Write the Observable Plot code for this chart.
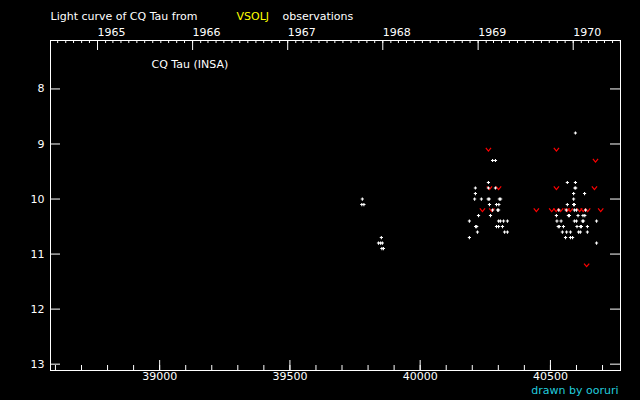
<!DOCTYPE html>
<html><head><meta charset="utf-8">
<script src="https://cdn.jsdelivr.net/npm/d3@7"></script>
<script src="https://cdn.jsdelivr.net/npm/@observablehq/plot@0.6"></script>
<style>html,body{margin:0;padding:0;background:#000;overflow:hidden}</style>
</head><body><div id="chart"></div>
<script>
// Visual observations (JD - 2400000, magnitude)
const visJD = [
  39778,39776,39784,39851,39840,39848,39855,39853,39859,
  40278,40289,40262,40212,40262,40289,40212,
  40209,40235,40261,40265,40304,40309,
  40266,40293,40302,40278,40297,40301,
  40224,40270,40189,40301,40308,40320,40335,
  40213,40217,40293,40301,40316,40220,40324,40335,40189,
  40596,40565,40596,40594,40597,40589,40631,40589,
  40565,40589,40592,40532,40561,40592,40600,40635,
  40523,40569,40573,40606,40625,40632,
  40525,40541,40592,40600,40623,40627,40677,
  40530,40534,40550,40602,40615,40619,40642,
  40546,40562,40577,40608,40615,40642,
  40558,40577,40585,40677
];
const visMag = [
  10.0,10.1,10.1,10.7,10.8,10.8,10.8,10.9,10.9,
  9.3,9.3,9.7,9.8,9.8,9.8,9.9,
  10.0,10.0,10.0,10.0,10.0,10.0,
  10.1,10.1,10.1,10.2,10.2,10.2,
  10.3,10.3,10.4,10.4,10.4,10.4,10.4,
  10.5,10.5,10.5,10.5,10.5,10.6,10.6,10.6,10.7,
  8.8,9.7,9.7,9.8,9.8,9.9,9.9,10.0,
  10.1,10.1,10.1,10.2,10.2,10.2,10.2,10.2,
  10.3,10.3,10.3,10.3,10.3,10.3,
  10.4,10.4,10.4,10.4,10.4,10.4,10.4,
  10.5,10.5,10.5,10.5,10.5,10.5,10.5,
  10.6,10.6,10.6,10.6,10.6,10.6,
  10.7,10.7,10.7,10.8
];
// "Fainter than" observations
const fainterJD = [
  40262,40266,40301,40239,40275,40446,
  40523,40673,40523,40669,
  40505,40522,40539,40564,40576,40612,40626,40643,40693,
  40639
];
const fainterMag = [
  9.1,9.8,9.8,10.2,10.2,10.2,
  9.1,9.3,9.8,9.8,
  10.2,10.2,10.2,10.2,10.2,10.2,10.2,10.2,10.2,
  11.2
];
const yearLabels = [1965,1966,1967,1968,1969,1970];
const jdMajorTicks = [39000,39500,40000,40500];
const jdMinorTicks = [38600,38700,38800,38900,39000,39100,39200,39300,39400,39500,39600,39700,39800,39900,40000,40100,40200,40300,40400,40500,40600,40700];
const magTicks = [8,9,10,11,12,13];
const jdDomain = [38581, 40769];
const magDomain = [7.12, 13.115];

const W = 640, H = 400, mt = 40, mb = 30, ml = 50, mr = 20;
const iw = W - ml - mr, ih = H - mt - mb;
const toJD = d => +d / 864e5 + 40587.5;
const yearJD = yearLabels.map(y => toJD(new Date(Date.UTC(y, 0, 1))));
const monthJD = d3.utcMonth.range(new Date(Date.UTC(1964,6,1)), new Date(Date.UTC(1970,7,1)))
  .map(toJD).filter(j => j > jdDomain[0] && j < jdDomain[1]);

const vis = visJD.map((j, i) => ({jd: j, mag: visMag[i]}));
const fnt = fainterJD.map((j, i) => ({jd: j, mag: fainterMag[i]}));

const plusSymbol = {draw(ctx, size) { const r = Math.sqrt(size / Math.PI);
  ctx.moveTo(-r, 0); ctx.lineTo(r, 0); ctx.moveTo(0, -r); ctx.lineTo(0, r); }};
const vSymbol = {draw(ctx, size) { const r = Math.sqrt(size / Math.PI);
  ctx.moveTo(-r, -r * 0.6); ctx.lineTo(0, r * 0.6); ctx.lineTo(r, -r * 0.6); }};

const font = "DejaVu Sans";
const chart = Plot.plot({
  width: W, height: H, marginTop: mt, marginBottom: mb, marginLeft: ml, marginRight: mr,
  style: {background: "#000", color: "#fff", fontFamily: font, fontSize: "11px"},
  x: {domain: jdDomain},
  y: {domain: magDomain, reverse: true},
  marks: [
    Plot.frame({stroke: "#fff"}),
    // bottom ticks (inward)
    Plot.ruleX(jdMinorTicks, {x: d => d, stroke: "#fff", insetTop: ih - 5}),
    Plot.ruleX(jdMajorTicks, {x: d => d, stroke: "#fff", insetTop: ih - 10}),
    // top ticks (inward)
    Plot.ruleX(monthJD, {x: d => d, stroke: "#fff", insetBottom: ih - 3}),
    Plot.ruleX(yearJD, {x: d => d, stroke: "#fff", insetBottom: ih - 10}),
    // left & right ticks
    Plot.ruleY(magTicks, {y: d => d, stroke: "#fff", insetRight: iw - 10}),
    Plot.ruleY(magTicks, {y: d => d, stroke: "#fff", insetLeft: iw - 10}),
    Plot.axisX({ticks: jdMajorTicks, tickSize: 0, tickPadding: 2, tickFormat: d => String(d),
      label: null, fontSize: 11, letterSpacing: "1px", fill: "#fff"}),
    Plot.axisY({ticks: magTicks, tickSize: 0, tickPadding: 6, tickFormat: d => String(d),
      label: null, fontSize: 11, fill: "#fff"}),
    Plot.text(yearLabels, {x: (d, i) => yearJD[i], text: d => String(d), frameAnchor: "top",
      dy: -12.5, textAnchor: "start", fill: "#fff", fontSize: 11, letterSpacing: "0.5px"}),
    Plot.text(["CQ Tau (INSA)"], {frameAnchor: "top-left", dx: 101, dy: 20, textAnchor: "start",
      fill: "#fff", fontSize: 11, letterSpacing: "0.5px"}),
    Plot.text(["Light curve of CQ Tau from"], {frameAnchor: "top-left", dx: 0, dy: -28, textAnchor: "start",
      fill: "#fff", fontSize: 11, letterSpacing: "0.6px"}),
    Plot.text(["VSOLJ"], {frameAnchor: "top-left", dx: 186, dy: -28, textAnchor: "start",
      fill: "#ffff00", fontSize: 11, letterSpacing: "0.6px"}),
    Plot.text(["observations"], {frameAnchor: "top-left", dx: 232, dy: -28, textAnchor: "start",
      fill: "#fff", fontSize: 11, letterSpacing: "0.6px"}),
    Plot.text(["drawn by ooruri"], {frameAnchor: "bottom-right", dx: -2, dy: 23, textAnchor: "end",
      fill: "#22ccdd", fontSize: 11, letterSpacing: "0.4px"}),
    Plot.dot(fnt, {x: "jd", y: "mag", symbol: vSymbol, r: 2.6, stroke: "#ff0000", fill: "none", strokeWidth: 1.2}),
    Plot.dot(vis, {x: "jd", y: "mag", symbol: plusSymbol, r: 1.6, stroke: "#fff", fill: "none", strokeWidth: 1.1})
  ]
});
document.getElementById("chart").appendChild(chart);
</script>
</body></html>
